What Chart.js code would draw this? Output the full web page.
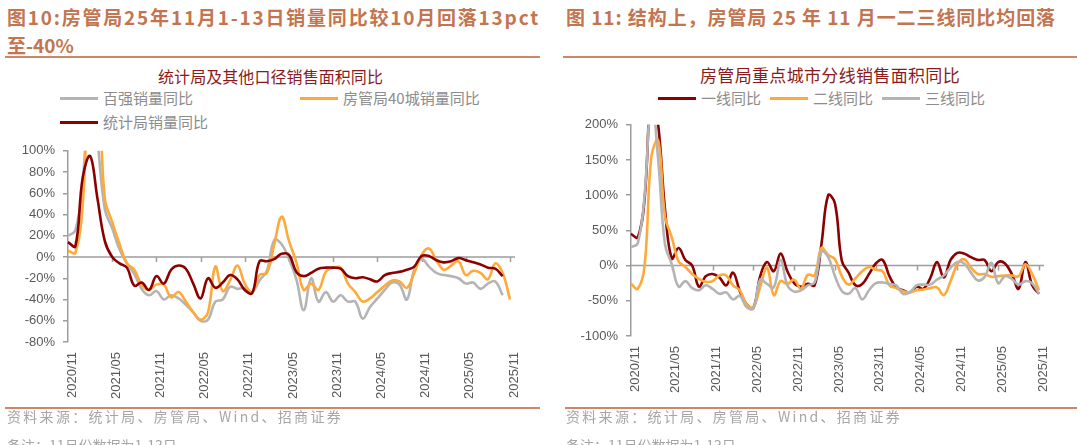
<!DOCTYPE html>
<html>
<head>
<meta charset="utf-8">
<script src="https://cdn.jsdelivr.net/npm/chart.js"></script>
<style>
  html, body { margin: 0; padding: 0; background: #fff; }
  body { width: 1077px; height: 445px; overflow: hidden; position: relative; }
  .abs { position: absolute; white-space: nowrap; }
  .fig { font-family: "Noto Sans CJK SC", sans-serif; font-size: 19px; line-height: 28px; color: #c3754f; font-weight: 700; }
  .rule { position: absolute; height: 2px; background: #cf8667; }
  .ctitle { font-family: "Noto Sans CJK SC", sans-serif; font-size: 16px; line-height: 20px; color: #8b1a1a; }
  .leg { font-family: "Noto Sans CJK SC", sans-serif; font-size: 15px; line-height: 20px; color: #8c8c8c; }
  .leg i { display: inline-block; width: 38px; height: 3px; vertical-align: middle; margin-right: 5px; position: relative; top: -1px; }
  .src { font-family: "Noto Sans CJK SC", sans-serif; font-size: 14px; line-height: 20px; color: #a6a6a6; }
  canvas { position: absolute; }
</style>
</head>
<body>
  <div class="abs fig" id="t1" style="left:7px;top:3px">图10:房管局25年11月1-13日销量同比较10月回落13pct</div>
  <div class="abs fig" style="left:7px;top:31px">至-40%</div>
  <div class="rule" style="left:5px;top:56px;width:535px"></div>
  <div class="abs fig" id="t2" style="left:566px;top:3px">图 11: 结构上，房管局 25 年 11 月一二三线同比均回落</div>
  <div class="rule" style="left:563px;top:56px;width:514px"></div>

  <div class="abs ctitle" id="c1" style="left:158px;top:66px">统计局及其他口径销售面积同比</div>
  <div class="abs leg" style="left:60px;top:88px"><i style="background:#b4b4b4"></i>百强销量同比</div>
  <div class="abs leg" style="left:300px;top:88px"><i style="background:#ffa93a"></i>房管局40城销量同比</div>
  <div class="abs leg" style="left:60px;top:112px"><i style="background:#8b0000"></i>统计局销量同比</div>

  <div class="abs ctitle" id="c2" style="left:700px;top:65px;font-size:17px">房管局重点城市分线销售面积同比</div>
  <div class="abs leg" style="left:658px;top:88px"><i style="background:#8b0000"></i>一线同比</div>
  <div class="abs leg" style="left:770px;top:88px"><i style="background:#ffa93a"></i>二线同比</div>
  <div class="abs leg" style="left:882px;top:88px"><i style="background:#b4b4b4"></i>三线同比</div>

  <canvas id="leftChart" width="540" height="273" style="left:0;top:135px"></canvas>
  <canvas id="rightChart" width="522" height="299" style="left:555px;top:109px"></canvas>

  <div class="rule" style="left:5px;top:407px;width:535px"></div>
  <div class="rule" style="left:565px;top:407px;width:512px"></div>
  <div class="abs src" id="s1" style="left:7px;top:406px">资料来源：统计局、房管局、Wind、招商证券</div>
  <div class="abs src" style="left:7px;top:435px">备注：11月份数据为1-13日</div>
  <div class="abs src" id="s2" style="left:566px;top:406px">资料来源：统计局、房管局、Wind、招商证券</div>
  <div class="abs src" style="left:566px;top:435px">备注：11月份数据为1-13日</div>

<script>
const months = [
  "2020/11", "2020/12", "2021/01", "2021/02", "2021/03", "2021/04", "2021/05", "2021/06", "2021/07", "2021/08", "2021/09", "2021/10",
  "2021/11", "2021/12", "2022/01", "2022/02", "2022/03", "2022/04", "2022/05", "2022/06", "2022/07", "2022/08", "2022/09", "2022/10",
  "2022/11", "2022/12", "2023/01", "2023/02", "2023/03", "2023/04", "2023/05", "2023/06", "2023/07", "2023/08", "2023/09", "2023/10",
  "2023/11", "2023/12", "2024/01", "2024/02", "2024/03", "2024/04", "2024/05", "2024/06", "2024/07", "2024/08", "2024/09", "2024/10",
  "2024/11", "2024/12", "2025/01", "2025/02", "2025/03", "2025/04", "2025/05", "2025/06", "2025/07", "2025/08", "2025/09", "2025/10",
  "2025/11"
];
const xTicks = ["2020/11", "2021/05", "2021/11", "2022/05", "2022/11", "2023/05", "2023/11", "2024/05", "2024/11", "2025/05", "2025/11"];

// left: 统计局及其他口径 (%)
const top100 = [20, 25, 70, 170, 110, 45, 27, 7, -6, -16, -30, -36, -32, -40, -36, -39, -45, -52, -60, -59, -42, -40, -28, -30, -29, -33, -22, -13, 16, 12,
  -2, -21, -50, -20, -42, -33, -42, -36, -42, -42, -58, -47, -39, -31, -24, -26, -40, -12, -2, -9, -15, -17, -18, -20, -25, -24, -30, -25, -23, -36];
const city40 = [6, 4, 50, 180, 170, 55, 33, 12, -6, -12, -26, -31, -26, -26, -38, -33, -42, -52, -59, -52, -9, -32, -22, -8, -25, -33, -17, -15, 12, 38,
  15, -5, -31, -25, -31, -14, -10, -10, -25, -33, -42, -39, -33, -27, -22, -23, -29, -15, 2, 8, -3, -12, -8, -4, -17, -13, -15, -21, -6, -15, -40];
const nbs = [14, 10, 75, 95, 55, 15, 0, -6, -10, -27, -24, -31, -18, -25, -12, -8, -11, -25, -39, -20, -29, -24, -17, -21, -31, -34, -4, -4, -2, 3,
  2, -14, -18, -15, -11, -10, -10, -11, -18, -20, -19, -21, -23, -17, -15, -14, -12, -9, 1, 1, -3, -5, -4, -1, -3, -5, -7, -10, -11, -18];

// right: 房管局重点城市分线 (%)
const tier1 = [45, 40, 95, 250, 200, 80, 10, 25, 8, 0, -30, -15, -12, -17, -28, -10, -36, -55, -60, -15, 5, -8, 17, -8, -25, -30, -26, -28, 30, 100,
  88, 7, -10, -28, -26, -12, 3, 8, -15, -31, -35, -38, -30, -33, -18, 5, -17, 8, 18, 17, 12, 8, 8, -8, 5, 3, -12, -33, 5, -28, -40];
const tier2 = [-26, -33, 0, 155, 178, 70, 40, 6, -2, -12, -19, -23, -22, -14, -14, -28, -35, -55, -59, -30, -3, -42, -22, -26, -20, -33, -13, -14, 25, 15,
  9, -15, -27, -18, -8, -2, -6, -8, -28, -32, -36, -38, -35, -34, -32, -31, -42, -22, 2, 9, -3, -12, -12, -16, -15, -14, -14, -15, 2, -12, -35];
const tier3 = [26, 32, 100, 240, 150, 30, 2, -30, -22, -32, -35, -28, -33, -40, -38, -48, -43, -59, -61, -20, -26, -31, 8, -28, -37, -35, -28, -24, 20, 12,
  -15, -36, -40, -32, -48, -35, -25, -24, -26, -28, -40, -38, -28, -27, -27, -20, -14, -3, 5, 3, -10, -21, -16, 4, -25, -15, -19, -27, -22, -25, -40];

const zeroLine = {
  id: "zeroLine",
  beforeDatasetsDraw(chart) {
    const { ctx, chartArea, scales } = chart;
    const y0 = scales.y.getPixelForValue(0);
    ctx.save();
    ctx.strokeStyle = "#9d9d9d";
    ctx.lineWidth = 1.5;
    ctx.beginPath();
    ctx.moveTo(chartArea.left, y0);
    ctx.lineTo(chartArea.right + 5, y0);
    months.forEach((m, i) => {
      if (i > 0 && xTicks.includes(m)) {
        const px = Math.round(scales.x.getPixelForValue(i)) + 0.5;
        ctx.moveTo(px, y0);
        ctx.lineTo(px, y0 + 5);
      }
    });
    ctx.stroke();
    ctx.restore();
  },
};

function line(label, data, color, order) {
  return {
    label: label,
    data: data,
    borderColor: color,
    backgroundColor: color,
    borderWidth: 2.6,
    pointRadius: 0,
    tension: 0.4,
    fill: false,
    order: order,
  };
}

function options(yMin, yMax, yStep, padRight, yWidth, xHeight) {
  const tickFont = { family: "Liberation Sans, Arial, sans-serif", size: 13 };
  return {
    responsive: false,
    animation: false,
    layout: { padding: { left: 0, top: 5, right: padRight, bottom: 0 } },
    plugins: { legend: { display: false }, tooltip: { enabled: false } },
    scales: {
      x: {
        grid: { display: false, drawTicks: false },
        border: { display: false },
        ticks: {
          autoSkip: false,
          maxRotation: 90,
          minRotation: 90,
          padding: 10,
          labelOffset: 4,
          color: "#595959",
          font: tickFont,
          callback: (v, i) => (xTicks.includes(months[i]) ? months[i] : ""),
        },
        afterFit: (s) => { s.height = xHeight; },
      },
      y: {
        min: yMin,
        max: yMax,
        grid: { drawOnChartArea: false, drawTicks: true, tickLength: 5, color: "#9d9d9d", lineWidth: 1.5 },
        border: { color: "#9d9d9d", width: 1.5 },
        ticks: { stepSize: yStep, padding: 8, color: "#595959", font: tickFont, callback: (v) => v + "%" },
        afterFit: (s) => { s.width = yWidth; },
      },
    },
  };
}

new Chart(document.getElementById("leftChart"), {
  type: "line",
  data: {
    labels: months,
    datasets: [
      line("百强销量同比", top100, "#b4b4b4", 2),
      line("房管局40城销量同比", city40, "#ffa93a", 1),
      line("统计局销量同比", nbs, "#8b0000", 0),
    ],
  },
  options: options(-80, 100, 20, 30, 68, 66),
  plugins: [zeroLine],
});

new Chart(document.getElementById("rightChart"), {
  type: "line",
  data: {
    labels: months,
    datasets: [
      line("一线同比", tier1, "#8b0000", 2),
      line("二线同比", tier2, "#ffa93a", 1),
      line("三线同比", tier3, "#b4b4b4", 0),
    ],
  },
  options: options(-100, 200, 50, 38, 76, 72),
  plugins: [zeroLine],
});

// stretch the header / source texts to the widths they take in the picture
function fit(id, width) {
  const el = document.getElementById(id);
  const w = el.getBoundingClientRect().width;
  el.style.letterSpacing = ((width - w) / el.textContent.length) + "px";
}
fit("t1", 533);
fit("t2", 490);
fit("c1", 225);
fit("c2", 260);
fit("s1", 336);
fit("s2", 336);
</script>
</body>
</html>
